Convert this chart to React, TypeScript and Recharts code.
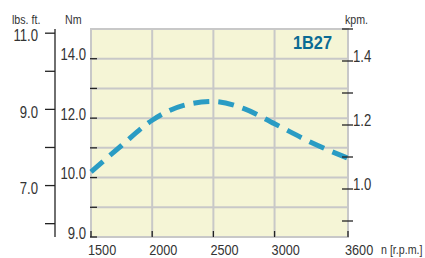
import { LineChart, Line, XAxis, YAxis, CartesianGrid, ReferenceArea } from "recharts";

const rpm = [1500, 1750, 2000, 2250, 2500, 2750, 3000, 3300, 3600];
const torqueNm = [10.19, 11.08, 11.93, 12.42, 12.56, 12.32, 11.81, 11.18, 10.65];

const rpmTicks = [1500, 2000, 2500, 3000, 3600];
const nmTicks = [8, 9, 10, 11, 12, 13, 14];
const nmLabels: Record<string, string> = { 8: "9.0", 10: "10.0", 12: "12.0", 14: "14.0" };
const lbsTicks = [6, 7, 8, 9, 10, 11];
const lbsLabels: Record<string, string> = { 7: "7.0", 9: "9.0", 11: "11.0" };
const kpmTicks = [0.9, 1.0, 1.1, 1.2, 1.3, 1.4, 1.5];
const kpmLabels: Record<string, string> = { 1: "1.0", 1.2: "1.2", 1.4: "1.4" };

const FONT = '"Liberation Sans", Arial, sans-serif';
const TXT = "#333";
const INK = "#222";

// ids: recharts stacks left axes by id, the first one sits next to the plot
const NM = "a_nm";
const LBS = "b_lbs";
const KPM = "c_kpm";

const data = rpm.map((r, i) => ({ rpm: r, nm: torqueNm[i] }));

// condensed text: the original uses a narrow grotesque
function NText({ x, y, size = 16, anchor = "start", fill = TXT, weight = "normal", sx = 0.82, children }: any) {
  return (
    <text
      transform={`translate(${x},${y}) scale(${sx},1)`}
      textAnchor={anchor}
      fontFamily={FONT}
      fontSize={size}
      fontWeight={weight}
      fill={fill}
    >
      {children}
    </text>
  );
}

function XTick({ x, y, payload }: any) {
  return (
    <g>
      <line x1={x} x2={x} y1={y - 6} y2={y} stroke={INK} strokeWidth={1.3} />
      <NText x={x - 3} y={y + 17.8} size={15.5}>{payload.value}</NText>
    </g>
  );
}

function NmTick({ x, y, payload }: any) {
  const ax = x + 5;
  const label = nmLabels[String(payload.value)];
  return (
    <g>
      <line x1={ax - 1} x2={ax + 6} y1={y} y2={y} stroke={INK} strokeWidth={1.3} />
      {label && <NText x={x} y={y + 1.5} anchor="end">{label}</NText>}
    </g>
  );
}

function LbsTick({ x, y, payload }: any) {
  const label = lbsLabels[String(payload.value)];
  if (!label) return null;
  return <NText x={x} y={y + 8.2} anchor="end">{label}</NText>;
}

function KpmTick({ x, y, payload }: any) {
  const ax = x - 5;
  const label = kpmLabels[String(payload.value)];
  return (
    <g>
      <line x1={ax - 6} x2={ax + 5} y1={y} y2={y} stroke={INK} strokeWidth={1.3} />
      {label && <NText x={x} y={y + 0.7}>{label}</NText>}
    </g>
  );
}

export default function App() {
  return (
    <div style={{ position: "absolute", left: 0, top: 0, width: 425, height: 258, background: "#fff" }}>
      <LineChart width={425} height={258} data={data} margin={{ top: 29, right: 0, bottom: 0, left: 0 }}>
        <CartesianGrid yAxisId={NM} stroke="#c8c8c8" strokeWidth={2} fill="#f5f5d6" />
        <ReferenceArea yAxisId={NM} x1={1500} x2={3600} y1={8} y2={15} fill="none" stroke="#c8c8c8" strokeWidth={2} />
        <XAxis
          dataKey="rpm"
          type="number"
          domain={[1500, 3600]}
          ticks={rpmTicks}
          height={21}
          axisLine={false}
          tickLine={false}
          tickSize={0}
          tickMargin={0}
          tick={<XTick />}
          interval={0}
        />
        <YAxis
          yAxisId={NM}
          orientation="left"
          width={36}
          type="number"
          domain={[8, 15]}
          ticks={nmTicks}
          allowDataOverflow
          axisLine={false}
          tickLine={false}
          tickSize={0}
          tickMargin={5}
          tick={<NmTick />}
          interval={0}
        />
        <YAxis
          yAxisId={LBS}
          orientation="left"
          width={55}
          type="number"
          domain={[5.65, 11.11]}
          ticks={lbsTicks}
          allowDataOverflow
          stroke={INK}
          axisLine={{ stroke: INK, strokeWidth: 1.3 }}
          tickLine={{ stroke: INK, strokeWidth: 1.3 }}
          tickSize={10}
          tickMargin={7}
          tick={<LbsTick />}
          interval={0}
        />
        <YAxis
          yAxisId={KPM}
          orientation="right"
          width={77}
          type="number"
          domain={[0.85, 1.5]}
          ticks={kpmTicks}
          allowDataOverflow
          axisLine={false}
          tickLine={false}
          tickSize={0}
          tickMargin={5}
          tick={<KpmTick />}
          interval={0}
        />
        <Line
          yAxisId={NM}
          dataKey="nm"
          type="monotone"
          stroke="#2a9cc4"
          strokeWidth={5}
          strokeDasharray="16 9"
          dot={false}
          activeDot={false}
          isAnimationActive={false}
        />
      </LineChart>
      <svg width={425} height={258} style={{ position: "absolute", left: 0, top: 0, pointerEvents: "none" }}>
        <NText x={12} y={23.8} size={13}>lbs. ft.</NText>
        <NText x={65} y={23.8} size={13}>Nm</NText>
        <NText x={345} y={23.8} size={13}>kpm.</NText>
        <NText x={381} y={254} size={13}>n [r.p.m.]</NText>
        <NText x={293} y={48.7} size={19} weight="bold" fill="#0b6b94" sx={0.86}>1B27</NText>
      </svg>
    </div>
  );
}
